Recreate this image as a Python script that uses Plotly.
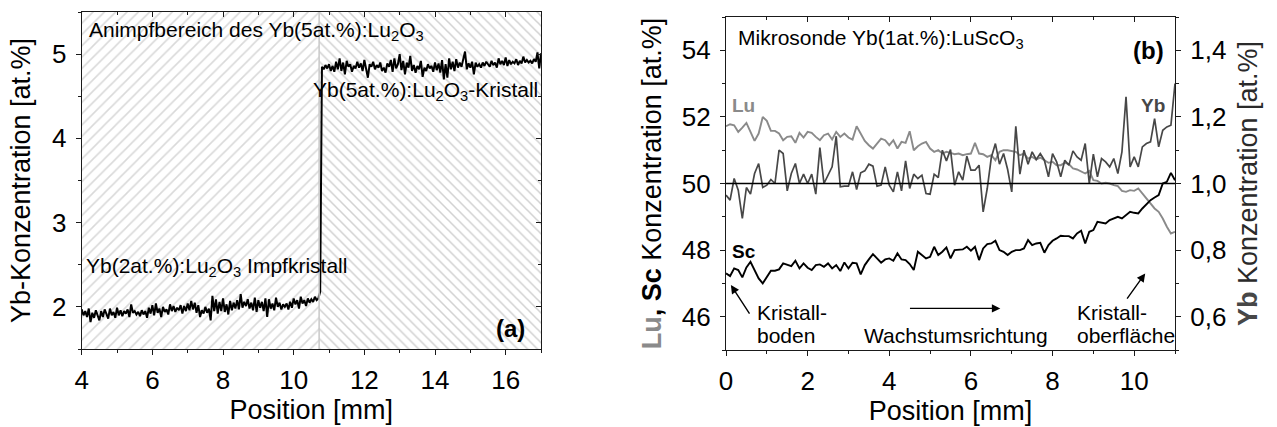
import numpy as np
import plotly.graph_objects as go

# ---------------- (a) Yb-Konzentration, Impfkristall -> Kristall ----------------
a_x0 = 4.0          # first measuring position [mm]
a_step = 0.05       # measuring step [mm]
a_boundary = 10.72  # border of the seeding zone [mm]

yb_seed = [
    1.97, 1.90, 1.95, 1.88, 1.98, 1.82, 1.93, 1.87, 1.96, 1.90,
    1.84, 1.95, 1.88, 1.97, 1.91, 1.86, 1.98, 1.90, 1.94, 1.87,
    1.99, 1.90, 1.96, 1.89, 1.95, 1.92, 1.97, 1.88, 2.03, 1.93,
    1.95, 1.91, 1.94, 1.89, 1.96, 1.91, 1.95, 1.87, 1.99, 1.92,
    2.02, 1.90, 2.04, 1.93, 1.98, 1.88, 2.00, 1.94, 1.97, 1.91,
    2.03, 1.95, 2.01, 1.94, 1.99, 1.96, 2.02, 1.92, 2.01, 1.95,
    2.04, 1.96, 2.07, 1.97, 2.05, 1.93, 2.02, 1.88, 1.96, 1.92,
    2.00, 1.93, 1.98, 1.84, 2.13, 1.95, 2.09, 1.92, 2.06, 1.95,
    2.10, 1.94, 2.03, 1.91, 2.07, 1.96, 2.05, 1.98, 2.08, 1.97,
    2.15, 1.99, 2.06, 2.01, 2.09, 1.98, 2.05, 1.96, 2.11, 1.94,
    2.08, 1.99, 2.06, 1.95, 2.10, 1.88, 2.09, 1.98, 2.04, 1.96,
    2.11, 2.00, 2.05, 1.97, 2.03, 2.00, 2.04, 1.97, 2.06, 1.99,
    2.10, 2.03, 2.08, 1.98, 2.12, 2.04, 2.08, 2.01, 2.10, 2.05,
    2.09, 2.06, 2.12, 2.08, 2.10, 2.18,
]
yb_crystal = [
    4.85, 4.82, 4.87, 4.83, 4.88, 4.80, 4.86, 4.79, 4.91, 4.82,
    4.95, 4.80, 4.90, 4.76, 4.92, 4.85, 4.88, 4.79, 4.86, 4.83,
    4.91, 4.84, 4.89, 4.80, 4.93, 4.83, 4.72, 4.88, 4.85, 4.91,
    4.82, 4.87, 4.84, 4.90, 4.80, 4.84, 4.78, 4.89, 4.85, 4.93,
    4.79, 4.95, 4.83, 4.88, 5.00, 4.81, 4.92, 4.76, 4.90, 4.84,
    4.98, 4.80, 4.87, 4.78, 4.86, 4.82, 4.92, 4.73, 4.84, 4.80,
    4.88, 4.83, 4.86, 4.79, 4.90, 4.81, 4.89, 4.78, 4.93, 4.70,
    4.88, 4.72, 4.95, 4.82, 4.91, 4.80, 4.94, 4.84, 4.90, 4.85,
    4.93, 5.03, 4.82, 4.89, 4.84, 4.91, 4.76, 4.90, 4.85, 4.88,
    4.84, 4.90, 4.86, 4.91, 4.88, 4.85, 4.92, 4.87, 4.90, 4.84,
    4.95, 4.88, 4.92, 4.87, 4.96, 4.86, 4.93, 4.88, 4.91, 4.89,
    4.94, 4.87, 4.92, 4.89, 4.97, 4.90, 4.93, 4.90, 4.92, 4.89,
    4.94, 4.91, 5.02, 4.83, 5.01,
]

# ---------------- (b) Mikrosonde Yb(1at.%):LuScO3 ----------------
b_step = 0.1  # [mm], positions 0 ... 11 mm

lu_conc = [
    51.72, 51.78, 51.75, 51.55, 51.68, 51.82, 51.55, 51.28, 51.50, 52.00,
    51.88, 51.58, 51.58, 51.50, 51.30, 51.40, 51.42, 51.22, 51.52, 51.38,
    51.55, 51.52, 51.40, 51.30, 51.45, 51.50, 51.32, 51.55, 51.40, 51.50,
    51.38, 51.32, 51.72, 51.50, 51.28, 51.15, 51.05, 51.20, 51.35, 51.30,
    51.15, 51.30, 51.05, 51.25, 51.22, 51.57, 51.00, 51.12, 51.20, 51.25,
    51.05, 50.95, 51.00, 50.90, 50.95, 50.92, 50.88, 50.90, 50.85, 50.88,
    50.90, 51.22, 50.90, 50.88, 50.80, 50.85, 50.70, 50.95, 51.00, 51.00,
    50.98, 50.95, 50.85, 50.90, 50.75, 50.80, 50.72, 50.78, 50.70, 50.62,
    50.65, 50.55, 50.55, 50.62, 50.58, 50.45, 50.42, 50.35, 50.30, 50.38,
    50.10, 50.08, 50.00, 50.02, 50.00, 49.95, 49.92, 49.78, 49.75, 49.80,
    49.78, 49.85, 49.70, 49.55, 49.40, 49.25, 49.15, 48.95, 48.70, 48.50,
    48.55,
]
sc_conc = [
    47.30, 47.22, 47.45, 47.40, 47.18, 47.48, 47.65, 47.38, 47.15, 47.00,
    47.18, 47.38, 47.38, 47.42, 47.60, 47.55, 47.52, 47.68, 47.45, 47.60,
    47.47, 47.40, 47.55, 47.57, 47.50, 47.60, 47.45, 47.55, 47.37, 47.63,
    47.45, 47.62, 47.60, 47.27, 47.55, 47.72, 47.88, 47.75, 47.62, 47.72,
    47.75, 47.68, 47.90, 47.72, 47.70, 47.58, 47.40, 47.95, 47.85, 47.75,
    47.80, 48.10, 47.85, 47.95, 48.08, 47.75, 48.00, 48.00, 48.02, 48.10,
    47.98, 48.10, 47.70, 48.05, 48.18, 48.20, 48.28, 48.00, 47.95, 47.85,
    47.95, 48.00, 48.00, 48.05, 48.30, 48.15, 48.20, 48.22, 47.92, 48.15,
    48.28, 48.35, 48.43, 48.42, 48.42, 48.35, 48.50, 48.58, 48.20, 48.55,
    48.60, 48.85, 48.82, 48.80, 48.90, 48.95, 49.00, 48.95, 49.05, 49.15,
    49.12, 49.10, 49.25, 49.38, 49.50, 49.58, 49.65, 50.00, 50.05, 50.32,
    50.10,
]
yb_conc = [
    0.965, 0.950, 1.015, 0.980, 0.895, 0.988, 0.968, 1.030, 1.060, 0.988,
    0.995, 1.012, 1.000, 1.100, 1.090, 0.978, 1.030, 1.060, 1.000, 1.028,
    1.000, 1.028, 0.968, 1.108, 1.000, 1.025, 1.050, 1.142, 0.990, 0.992,
    0.992, 1.035, 0.982, 1.032, 1.038, 1.058, 1.052, 0.992, 0.995, 1.050,
    0.995, 0.975, 1.035, 0.978, 1.068, 0.985, 1.028, 1.015, 1.025, 0.970,
    0.968, 1.028, 1.018, 1.100, 1.068, 1.102, 0.995, 1.035, 1.010, 1.082,
    1.040, 1.040, 1.055, 0.915, 0.985, 1.078, 1.120, 1.058, 1.090, 1.042,
    0.975, 1.172, 1.028, 1.100, 1.058, 1.095, 1.072, 1.090, 1.070, 1.020,
    1.090, 1.065, 1.020, 1.070, 1.055, 1.098, 1.080, 1.070, 1.120, 1.000,
    1.088, 1.020, 1.075, 1.065, 1.050, 1.075, 1.030, 1.095, 1.260, 1.050,
    1.080, 1.050, 1.110, 1.120, 1.125, 1.195, 1.110, 1.160, 1.170, 1.175,
    1.300,
]

# ---------------- styles ----------------
FONT = "Liberation Sans, Arial, sans-serif"
TICK_FONT = dict(family=FONT, size=26, color="black")
TITLE_FONT = dict(family=FONT, size=27, color="black")
ANNOT = 21
LU_COLOR = "#8a8a8a"
YB_COLOR = "#474747"
SC_COLOR = "black"
AXIS_COLOR = "#1a1a1a"

a_dom_x = [81.7 / 1277, 541 / 1277]
a_dom_y = [1 - 349 / 427, 1 - 12 / 427]
b_dom_x = [726 / 1277, 1175 / 1277]
b_dom_y = [1 - 350 / 427, 1 - 17 / 427]

a_xr = [4, 17]
a_yr = [1.5, 5.5]
b_xr = [0, 11]
b_yr = [45, 55]
b_y2r = [0.5, 1.5]

seed_pos = a_x0 + a_step * np.arange(len(yb_seed))
cryst_pos = seed_pos[-1] + a_step * (1 + np.arange(len(yb_crystal)))
a_pos = np.concatenate([seed_pos, cryst_pos])
a_val = np.array(yb_seed + yb_crystal)
b_pos = b_step * np.arange(len(lu_conc))

fig = go.Figure()

# hatched zones of panel (a)
fig.add_trace(go.Scatter(
    x=[a_xr[0], a_boundary, a_boundary, a_xr[0], a_xr[0]],
    y=[a_yr[0], a_yr[0], a_yr[1], a_yr[1], a_yr[0]],
    mode="lines", line=dict(width=0), fill="toself", fillcolor="white",
    fillpattern=dict(shape="/", size=8, solidity=0.2, fgcolor="#b4b4b4", bgcolor="white"),
    hoverinfo="skip", showlegend=False, xaxis="x", yaxis="y"))
fig.add_trace(go.Scatter(
    x=[a_boundary, a_xr[1], a_xr[1], a_boundary, a_boundary],
    y=[a_yr[0], a_yr[0], a_yr[1], a_yr[1], a_yr[0]],
    mode="lines", line=dict(width=0), fill="toself", fillcolor="white",
    fillpattern=dict(shape="\\", size=7, solidity=0.22, fgcolor="#a4a4a4", bgcolor="white"),
    hoverinfo="skip", showlegend=False, xaxis="x", yaxis="y"))

# Yb profile (a)
fig.add_trace(go.Scatter(
    x=a_pos, y=a_val, mode="lines", line=dict(color="black", width=2.0),
    showlegend=False, xaxis="x", yaxis="y"))

# profiles (b)
fig.add_trace(go.Scatter(
    x=b_pos, y=lu_conc, mode="lines", line=dict(color=LU_COLOR, width=1.9),
    showlegend=False, xaxis="x2", yaxis="y2"))
fig.add_trace(go.Scatter(
    x=b_pos, y=sc_conc, mode="lines", line=dict(color=SC_COLOR, width=1.9),
    showlegend=False, xaxis="x2", yaxis="y2"))
fig.add_trace(go.Scatter(
    x=b_pos, y=yb_conc, mode="lines", line=dict(color=YB_COLOR, width=1.7),
    showlegend=False, xaxis="x2", yaxis="y4"))

# empty traces that register the mirrored tick axes
for xa, ya in [("x3", "y"), ("x", "y3"), ("x4", "y2")]:
    fig.add_trace(go.Scatter(x=[None], y=[None], mode="lines", showlegend=False,
                             hoverinfo="skip", xaxis=xa, yaxis=ya))


def base_axis(**kw):
    d = dict(showgrid=False, zeroline=False, showline=True, linecolor=AXIS_COLOR,
             linewidth=1.3, tickcolor=AXIS_COLOR, tickwidth=1.3, ticklen=5,
             tickfont=TICK_FONT, automargin=False)
    d.update(kw)
    return d


def minor(dt, direction="outside"):
    return dict(ticks=direction, dtick=dt, ticklen=3, tickcolor=AXIS_COLOR, tickwidth=1.2)


fig.update_layout(
    width=1277, height=427,
    margin=dict(l=0, r=0, t=0, b=0),
    paper_bgcolor="white", plot_bgcolor="white",
    separators=",.",
    font=dict(family=FONT, color="black"),
    # panel (a)
    xaxis=base_axis(domain=a_dom_x, anchor="y", range=a_xr, dtick=2, tick0=0,
                    ticks="outside", mirror=True, minor=minor(1), ticklabelstandoff=3,
                    title=dict(text="Position [mm]", font=TITLE_FONT, standoff=5)),
    yaxis=base_axis(domain=a_dom_y, anchor="x", range=a_yr, dtick=1, tick0=0,
                    ticks="outside", mirror=True, minor=minor(0.5), ticklabelstandoff=4,
                    title=dict(text="Yb-Konzentration [at.%]", font=TITLE_FONT, standoff=13)),
    xaxis3=base_axis(overlaying="x", anchor="y", side="top", range=a_xr, dtick=2, tick0=0,
                     ticks="inside", showline=False, showticklabels=False,
                     minor=minor(1, "inside")),
    yaxis3=base_axis(overlaying="y", anchor="x", side="right", range=a_yr, dtick=1, tick0=0,
                     ticks="inside", showline=False, showticklabels=False,
                     minor=minor(0.5, "inside")),
    # panel (b)
    xaxis2=base_axis(domain=b_dom_x, anchor="y2", range=b_xr, dtick=2, tick0=0,
                     ticks="outside", mirror=True, minor=minor(1), ticklabelstandoff=3,
                     title=dict(text="Position [mm]", font=TITLE_FONT, standoff=5)),
    yaxis2=base_axis(domain=b_dom_y, anchor="x2", range=b_yr, dtick=2, tick0=0,
                     ticks="outside", mirror=True, minor=minor(1), ticklabelstandoff=4,
                     title=dict(text=f"<b><span style='color:{LU_COLOR}'>Lu</span>, Sc</b> Konzentration [at.%]",
                                font=TITLE_FONT, standoff=12)),
    xaxis4=base_axis(overlaying="x2", anchor="y2", side="top", range=b_xr, dtick=2, tick0=0,
                     ticks="inside", showline=False, showticklabels=False,
                     minor=minor(1, "inside")),
    yaxis4=base_axis(overlaying="y2", anchor="x2", side="right", range=b_y2r, dtick=0.2, tick0=0,
                     tickformat=".1f", ticks="outside", minor=minor(0.1), ticklabelstandoff=4,
                     title=dict(text=f"<b><span style='color:{YB_COLOR}'>Yb</span></b> Konzentration [at.%]",
                                font=dict(family=FONT, size=27, color="#2a2a2a"), standoff=12)),
)

# vertical border of the seeding zone and the 50 at.% / 1,0 at.% line
fig.add_shape(type="line", xref="x", yref="y domain", x0=a_boundary, x1=a_boundary, y0=0, y1=1,
              line=dict(color="#c8c8c8", width=1.5))
fig.add_shape(type="line", xref="x2 domain", yref="y2", x0=0, x1=1, y0=50, y1=50,
              line=dict(color="black", width=1.3))


def label(x, y, text, xref, yref, size=ANNOT, xanchor="left", color="black"):
    fig.add_annotation(x=x, y=y, xref=xref, yref=yref, text=text, showarrow=False,
                       xanchor=xanchor, yanchor="middle",
                       font=dict(family=FONT, size=size, color=color))


# panel (a) texts
label(4.15, 5.27, "Animpfbereich des Yb(5at.%):Lu<sub>2</sub>O<sub>3</sub>", "x", "y")
label(16.98, 4.56, "Yb(5at.%):Lu<sub>2</sub>O<sub>3</sub>-Kristall", "x", "y", xanchor="right")
label(4.07, 2.47, "Yb(2at.%):Lu<sub>2</sub>O<sub>3</sub> Impfkristall", "x", "y")
label(16.15, 1.74, "<b>(a)</b>", "x", "y", size=24, xanchor="center")

# panel (b) texts
label(0.25, 54.35, "Mikrosonde Yb(1at.%):LuScO<sub>3</sub>", "x2", "y2")
label(10.34, 54.0, "<b>(b)</b>", "x2", "y2", size=24, xanchor="center")
label(0.1, 52.35, "<b>Lu</b>", "x2", "y2", size=19, color=LU_COLOR)
label(0.1, 47.95, "<b>Sc</b>", "x2", "y2", size=19)
label(10.46, 1.235, "<b>Yb</b>", "x2", "y4", size=19, xanchor="center", color=YB_COLOR)
label(0.71, 46.14, "Kristall-", "x2", "y2")
label(0.71, 45.44, "boden", "x2", "y2")
label(5.63, 45.44, "Wachstumsrichtung", "x2", "y2", xanchor="center")
label(8.55, 46.14, "Kristall-", "x2", "y2")
label(8.55, 45.44, "oberfläche", "x2", "y2")


def arrow(x0, y0, x1, y1):
    fig.add_annotation(x=x1, y=y1, ax=x0, ay=y0, xref="x2", yref="y2", axref="x2", ayref="y2",
                       text="", showarrow=True, arrowhead=2, arrowsize=1.2, arrowwidth=1.4,
                       arrowcolor="black")


arrow(0.6, 46.05, 0.12, 46.95)
arrow(4.47, 46.25, 6.72, 46.25)
arrow(9.80, 46.5, 10.27, 47.3)

fig.write_html("out.html")
